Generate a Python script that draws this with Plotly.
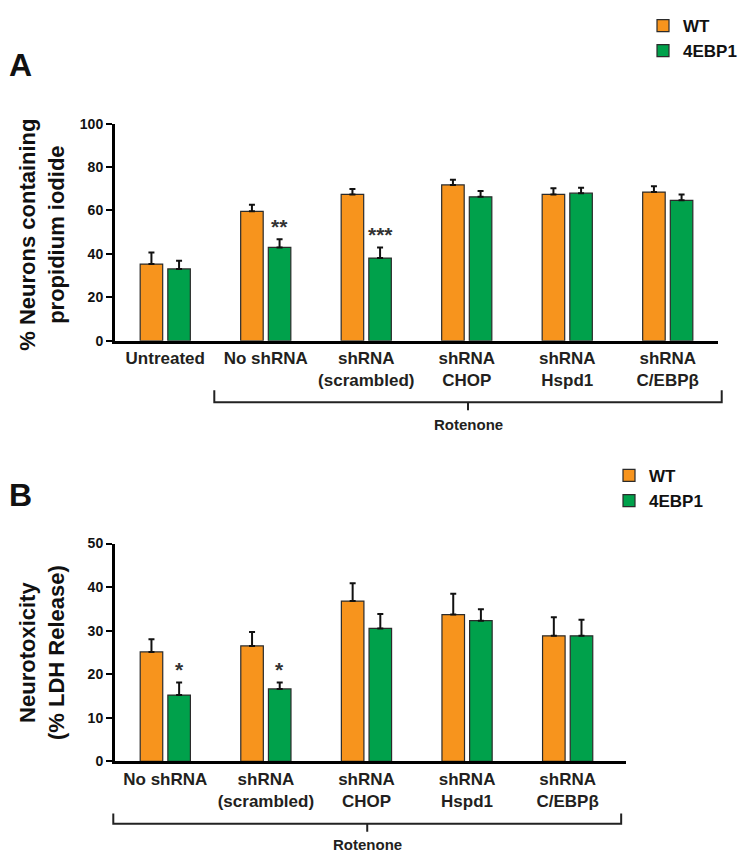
import plotly.graph_objects as go

# page is 752x861; the html body adds an 8px margin, so the figure is 16px smaller
OFF = 8
FW, FH = 744, 853

# ---------------- data ----------------
cats_a = ["Untreated", "No shRNA", "shRNA<br>(scrambled)", "shRNA<br>CHOP", "shRNA<br>Hspd1", "shRNA<br>C/EBPβ"]
wt_a = [35.3, 59.6, 67.4, 71.8, 67.4, 68.5]
wt_a_err = [5.3, 3.0, 2.5, 2.4, 2.9, 2.7]
ebp_a = [33.1, 43.0, 38.1, 66.3, 68.0, 64.7]
ebp_a_err = [3.7, 3.7, 4.9, 2.7, 2.5, 2.7]
stars_a = ["", "**", "***", "", "", ""]

cats_b = ["No shRNA", "shRNA<br>(scrambled)", "shRNA<br>CHOP", "shRNA<br>Hspd1", "shRNA<br>C/EBPβ"]
wt_b = [25.1, 26.5, 36.8, 33.7, 28.8]
wt_b_err = [2.9, 3.2, 4.1, 4.8, 4.3]
ebp_b = [15.2, 16.6, 30.5, 32.3, 28.8]
ebp_b_err = [2.9, 1.5, 3.3, 2.6, 3.7]
stars_b = ["*", "*", "", "", ""]

series_names = ["WT", "4EBP1"]
colors = ["#F7941D", "#00A14B"]

# ---------------- geometry helpers (page pixel -> paper) ----------------
def px_x(p):
    return (p - OFF) / FW

def px_y(p):
    return 1 - (p - OFF) / FH

XA_DOM = [px_x(115), px_x(718)]
XA_RANGE = [-0.5, 5.5]
XB_DOM = [px_x(115), px_x(626)]
XB_RANGE = [-0.5, 4.58]
YA_DOM = [px_y(330.7), px_y(106)]
YB_DOM = [px_y(766), px_y(540.7)]

def x_to_paper(x, dom, rng):
    return dom[0] + (x - rng[0]) / (rng[1] - rng[0]) * (dom[1] - dom[0])

FONT = "Liberation Sans, Arial, Helvetica, sans-serif"
TXT = "#231F20"

fig = go.Figure()

def add_bars(cats, wt, wt_err, ebp, ebp_err, xa, ya, legend):
    for name, vals, errs, col in [(series_names[0], wt, wt_err, colors[0]),
                                  (series_names[1], ebp, ebp_err, colors[1])]:
        fig.add_trace(go.Bar(
            x=cats, y=vals, name=name, xaxis=xa, yaxis=ya,
            marker=dict(color=col, line=dict(color="#2b2b2b", width=1.2)),
            error_y=dict(type="data", array=errs, arrayminus=[0] * len(errs),
                         symmetric=False, color="#111", thickness=2, width=3),
            legend=legend, showlegend=True,
        ))

add_bars(cats_a, wt_a, wt_a_err, ebp_a, ebp_a_err, "x", "y", "legend")
add_bars(cats_b, wt_b, wt_b_err, ebp_b, ebp_b_err, "x2", "y2", "legend2")

annotations = []
shapes = []

# significance stars
for cats, vals, errs, stars, xa, ya in [(cats_a, ebp_a, ebp_a_err, stars_a, "x", "y"),
                                        (cats_b, ebp_b, ebp_b_err, stars_b, "x2", "y2")]:
    for c, v, e, s in zip(cats, vals, errs, stars):
        if s:
            annotations.append(dict(x=c, y=v + e, xref=xa, yref=ya, text=s, showarrow=False,
                                    xshift=13.8, yshift=13, xanchor="center", yanchor="middle",
                                    font=dict(family=FONT, size=21, color="#333", weight="bold")))

# brackets "Rotenone"
def bracket(x0, x1, dom, rng, ytop, yline, ytick, ytext):
    p0 = x_to_paper(x0, dom, rng)
    p1 = x_to_paper(x1, dom, rng)
    pm = (p0 + p1) / 2
    line = dict(color="#222", width=2)
    shapes.append(dict(type="path", xref="paper", yref="paper",
                       path=f"M {p0},{px_y(ytop)} L {p0},{px_y(yline)} L {p1},{px_y(yline)} L {p1},{px_y(ytop)}",
                       line=line))
    shapes.append(dict(type="line", xref="paper", yref="paper", x0=pm, x1=pm,
                       y0=px_y(yline), y1=px_y(ytick), line=line))
    annotations.append(dict(x=pm, y=px_y(ytext), xref="paper", yref="paper", text="<b>Rotenone</b>",
                            showarrow=False, xanchor="center", yanchor="middle",
                            font=dict(family=FONT, size=15, color=TXT)))

bracket(0.488, 5.537, XA_DOM, XA_RANGE, 382, 394.3, 402.7, 417.3)
bracket(-0.517, 4.532, XB_DOM, XB_RANGE, 820, 830.7, 839, 852.3)

# panel letters
for letter, yc in [("A", 45), ("B", 490)]:
    annotations.append(dict(x=px_x(21), y=px_y(yc), xref="paper", yref="paper", text=f"<b>{letter}</b>",
                            showarrow=False, xanchor="center", yanchor="middle",
                            font=dict(family=FONT, size=32, color="#111")))

# y titles
for txt, yc in [("<b>% Neurons containing<br>propidium iodide</b>", 221),
                ("<b>Neurotoxicity<br>(% LDH Release)</b>", 654)]:
    annotations.append(dict(x=px_x(42), y=px_y(yc), xref="paper", yref="paper",
                            text=txt, textangle=-90, showarrow=False,
                            xanchor="center", yanchor="middle",
                            font=dict(family=FONT, size=22, color="#111")))

xcommon = dict(type="category", showline=True, linecolor="black", linewidth=3, ticks="",
               tickfont=dict(family=FONT, size=17, color=TXT, weight="bold"), showgrid=False,
               zeroline=False, fixedrange=True)
ycommon = dict(showline=True, linecolor="black", linewidth=3, ticks="outside", ticklen=6,
               tickwidth=2, tickcolor="black", showgrid=False, zeroline=False,
               tickfont=dict(family=FONT, size=14, color="#111", weight="bold"))

legfont = dict(family=FONT, size=17, color="#111", weight="bold")
fig.update_layout(
    width=FW, height=FH, autosize=False,
    margin=dict(l=0, r=0, t=0, b=0),
    paper_bgcolor="white", plot_bgcolor="white",
    barmode="group", bargap=0.45, bargroupgap=0.185,
    xaxis=dict(domain=XA_DOM, range=XA_RANGE, anchor="y", **xcommon),
    yaxis=dict(domain=YA_DOM, range=[0, 100], dtick=20, anchor="x", **ycommon),
    xaxis2=dict(domain=XB_DOM, range=XB_RANGE, anchor="y2", **xcommon),
    yaxis2=dict(domain=YB_DOM, range=[0, 50], dtick=10, anchor="x2", **ycommon),
    legend=dict(x=px_x(643), y=px_y(-14), xanchor="left", yanchor="top", bgcolor="rgba(0,0,0,0)",
                font=legfont, itemwidth=30, tracegroupgap=0),
    legend2=dict(x=px_x(609), y=px_y(452), xanchor="left", yanchor="top", bgcolor="rgba(0,0,0,0)",
                 font=legfont, itemwidth=30, tracegroupgap=0),
    annotations=annotations, shapes=shapes,
    font=dict(family=FONT),
)

fig.write_html("out.html")
